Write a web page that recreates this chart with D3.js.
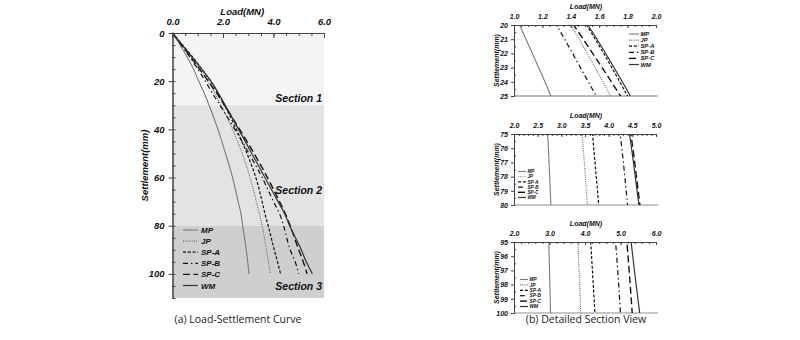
<!DOCTYPE html>
<html>
<head>
<meta charset="utf-8">
<script src="https://cdn.jsdelivr.net/npm/d3@7"></script>
<style>
  body { margin: 0; background: #fff; }
  svg text { font-family: "Liberation Sans", Arial, sans-serif; fill: #111; }
  .bi { font-weight: bold; font-style: italic; }
  .cap { font-family: "Open Sans", "Noto Sans", sans-serif !important; fill: #222; }
</style>
</head>
<body>
<svg id="chart" width="800" height="340"></svg>
<script>
// ---- data -------------------------------------------------------------
const seriesNames = ["MP", "JP", "SP-A", "SP-B", "SP-C", "WM"];
const settlement = [0, 5, 10, 15, 20, 25, 30, 40, 50, 60, 70, 75, 80, 90, 95, 100];
const loadMP  = [0, 0.30, 0.58, 0.83, 1.04, 1.26, 1.45, 1.80, 2.10, 2.38, 2.60, 2.71, 2.78, 2.92, 2.98, 3.03];
const loadJP  = [0, 0.38, 0.75, 1.09, 1.40, 1.68, 1.93, 2.38, 2.76, 3.07, 3.32, 3.44, 3.55, 3.72, 3.80, 3.88];
const loadSPA = [0, 0.40, 0.80, 1.16, 1.51, 1.80, 2.06, 2.53, 2.95, 3.30, 3.55, 3.66, 3.79, 4.03, 4.16, 4.28];
const loadSPB = [0, 0.35, 0.69, 1.00, 1.30, 1.58, 1.88, 2.47, 3.03, 3.55, 4.00, 4.24, 4.40, 4.66, 4.86, 5.00];
const loadSPC = [0, 0.36, 0.72, 1.07, 1.42, 1.75, 2.06, 2.66, 3.23, 3.76, 4.24, 4.47, 4.66, 5.00, 5.18, 5.33];
const loadWM  = [0, 0.39, 0.78, 1.16, 1.52, 1.82, 2.09, 2.62, 3.14, 3.66, 4.18, 4.44, 4.64, 5.10, 5.30, 5.54];
const seriesLoads = [loadMP, loadJP, loadSPA, loadSPB, loadSPC, loadWM];

const sectionNames = ["Section 1", "Section 2", "Section 3"];
const sectionBounds = [0, 30, 80, 110];
const mainLoadTicks = [0, 2, 4, 6];
const mainSettleTicks = [0, 20, 40, 60, 80, 100];

const detailSettleRanges = [[20, 25], [75, 80], [95, 100]];
const detailLoadDomains = [[1, 2], [2, 5], [2, 6]];
const detailLoadTicks = [
  [1.0, 1.2, 1.4, 1.6, 1.8, 2.0],
  [2.0, 2.5, 3.0, 3.5, 4.0, 4.5, 5.0],
  [2.0, 3.0, 4.0, 5.0, 6.0]
];

// ---- styles -----------------------------------------------------------
const lineStyle = {
  "MP":   { stroke: "#7a7a7a", dash: null,          width: 1.1 },
  "JP":   { stroke: "#666",    dash: "1,1.2",       width: 1.1 },
  "SP-A": { stroke: "#111",    dash: "3,1.8",       width: 1.2 },
  "SP-B": { stroke: "#111",    dash: "5,3,1.4,3",   width: 1.2 },
  "SP-C": { stroke: "#111",    dash: "7,3.5",       width: 1.4 },
  "WM":   { stroke: "#333",    dash: null,          width: 1.2 }
};
const bandFill = ["#f4f4f4", "#e3e3e3", "#cfcfcf"];

const svg = d3.select("#chart");
const series = seriesNames.map((name, i) => ({
  name,
  points: settlement.map((s, j) => [s, seriesLoads[i][j]])
}));

function styleLine(sel, name) {
  const st = lineStyle[name];
  sel.attr("fill", "none")
     .attr("stroke", st.stroke)
     .attr("stroke-width", st.width)
     .attr("stroke-dasharray", st.dash);
}

// ---- (a) load-settlement curve ----------------------------------------
const xL = d3.scaleLinear().domain([0, 6]).range([172.5, 324]);
const yL = d3.scaleLinear().domain([0, 110]).range([33, 298]);
const gA = svg.append("g");

gA.selectAll("rect.band")
  .data(sectionNames)
  .join("rect")
  .attr("x", xL(0))
  .attr("width", xL(6) - xL(0))
  .attr("y", (d, i) => yL(sectionBounds[i]))
  .attr("height", (d, i) => yL(sectionBounds[i + 1]) - yL(sectionBounds[i]))
  .attr("fill", (d, i) => bandFill[i]);

// section captions sit near the lower-right of each band
const secLabelY = [yL(30) - 3, yL(80) - 32, yL(110) - 8.5];
gA.selectAll("text.sec")
  .data(sectionNames)
  .join("text")
  .attr("class", "bi")
  .attr("x", xL(6) - 2)
  .attr("y", (d, i) => secLabelY[i])
  .attr("text-anchor", "end")
  .attr("font-size", 10.5)
  .text(d => d);

const lineL = d3.line().x(d => xL(d[1])).y(d => yL(d[0])).curve(d3.curveMonotoneY);
gA.selectAll("path.s")
  .data(series)
  .join("path")
  .attr("d", d => lineL(d.points))
  .each(function (d) { styleLine(d3.select(this), d.name); });

// top axis
const topAx = gA.append("g").attr("transform", `translate(0,${yL(0)})`)
  .call(d3.axisTop(xL).tickValues(mainLoadTicks).tickFormat(d3.format(".1f")).tickSizeInner(-5).tickSizeOuter(0).tickPadding(8));
const topMinor = gA.append("g").attr("transform", `translate(0,${yL(0)})`)
  .call(d3.axisTop(xL).ticks(15).tickFormat("").tickSizeInner(-3).tickSizeOuter(0));
// left axis
const leftAx = gA.append("g").attr("transform", `translate(${xL(0)},0)`)
  .call(d3.axisLeft(yL).tickValues(mainSettleTicks).tickSizeInner(4).tickSizeOuter(0).tickPadding(4));
const leftMinor = gA.append("g").attr("transform", `translate(${xL(0)},0)`)
  .call(d3.axisLeft(yL).tickValues(d3.range(5, 111, 5)).tickFormat("").tickSizeInner(-3).tickSizeOuter(0));
[topAx, topMinor, leftAx, leftMinor].forEach(g => {
  g.select(".domain").attr("stroke", "#444");
  g.selectAll(".tick line").attr("stroke", "#444");
  g.selectAll("text").attr("class", "bi").attr("font-size", 9.5).attr("fill", "#111");
});

gA.append("text").attr("class", "bi").attr("x", (xL(0) + xL(6)) / 2 - 6).attr("y", 15)
  .attr("text-anchor", "middle").attr("font-size", 9.5).text("Load(MN)");
gA.append("text").attr("class", "bi")
  .attr("transform", `translate(148,${yL(55)}) rotate(-90)`)
  .attr("text-anchor", "middle").attr("font-size", 9.5).text("Settlement(mm)");

// legend (a)
const legA = gA.append("g");
seriesNames.forEach((name, i) => {
  const y = 230 + i * 11.1;
  legA.append("line").attr("x1", 183).attr("x2", 198).attr("y1", y).attr("y2", y)
    .call(styleLine, name);
  legA.append("text").attr("class", "bi").attr("x", 201).attr("y", y + 3)
    .attr("font-size", 8).text(name);
});

svg.append("text").attr("class", "cap").attr("x", 238).attr("y", 323)
  .attr("text-anchor", "middle").attr("font-size", 10.5).text("(a) Load-Settlement Curve");

// ---- (b) detailed section views ---------------------------------------
const panelTop = [25, 134, 242];
const panelH = 71;
const legendPos = [
  { x: 629, y: 34,    dy: 6.1, len: 10, fs: 5.8 },
  { x: 518, y: 171.5, dy: 5.2, len: 8,  fs: 4.6 },
  { x: 520, y: 279.5, dy: 5.4, len: 8,  fs: 4.8 }
];
const minorCount = [25, 30, 20];

detailSettleRanges.forEach((rng, k) => {
  const x = d3.scaleLinear().domain(detailLoadDomains[k]).range([514, 656]);
  const y = d3.scaleLinear().domain(rng).range([panelTop[k], panelTop[k] + panelH]);
  const g = svg.append("g");
  const cid = "clip" + k;
  g.append("clipPath").attr("id", cid).append("rect")
    .attr("x", 514).attr("y", panelTop[k]).attr("width", 142).attr("height", panelH);

  // bottom frame line
  g.append("line").attr("x1", 514).attr("x2", 658)
    .attr("y1", y(rng[1])).attr("y2", y(rng[1]))
    .attr("stroke", k === 0 ? "#777" : "#b5b5b5").attr("stroke-width", k === 0 ? 1 : 1.5);

  const line = d3.line().x(d => x(d[1])).y(d => y(d[0])).curve(d3.curveMonotoneY);
  g.append("g").attr("clip-path", `url(#${cid})`)
    .selectAll("path").data(series).join("path")
    .attr("d", d => line(d.points))
    .each(function (d) { styleLine(d3.select(this), d.name); });

  const ax1 = g.append("g").attr("transform", `translate(0,${y(rng[0])})`)
    .call(d3.axisTop(x).tickValues(detailLoadTicks[k]).tickFormat(d3.format(".1f"))
      .tickSizeInner(-3).tickSizeOuter(0).tickPadding(6));
  const ax1m = g.append("g").attr("transform", `translate(0,${y(rng[0])})`)
    .call(d3.axisTop(x).ticks(minorCount[k]).tickFormat("").tickSizeInner(-2).tickSizeOuter(0));
  const ax2 = g.append("g").attr("transform", "translate(514,0)")
    .call(d3.axisLeft(y).tickValues(d3.range(rng[0], rng[1] + 0.5, 1)).tickFormat(d3.format("d"))
      .tickSizeInner(3).tickSizeOuter(0).tickPadding(3));
  const ax2m = g.append("g").attr("transform", "translate(514,0)")
    .call(d3.axisLeft(y).tickValues(d3.range(rng[0] + 0.5, rng[1], 1)).tickFormat("")
      .tickSizeInner(-2).tickSizeOuter(0));
  [ax1, ax1m, ax2, ax2m].forEach(a => {
    a.select(".domain").attr("stroke", "#444");
    a.selectAll(".tick line").attr("stroke", "#444");
    a.selectAll("text").attr("class", "bi").attr("font-size", 7).attr("fill", "#111");
  });

  g.append("text").attr("class", "bi").attr("x", 586).attr("y", panelTop[k] - 16)
    .attr("text-anchor", "middle").attr("font-size", 7).text("Load(MN)");
  g.append("text").attr("class", "bi")
    .attr("transform", `translate(499,${panelTop[k] + panelH / 2}) rotate(-90)`)
    .attr("text-anchor", "middle").attr("font-size", 7).text("Settlement(mm)");

  const lp = legendPos[k];
  seriesNames.forEach((name, i) => {
    const yy = lp.y + i * lp.dy;
    g.append("line").attr("x1", lp.x).attr("x2", lp.x + lp.len).attr("y1", yy).attr("y2", yy)
      .call(styleLine, name);
    g.append("text").attr("class", "bi").attr("x", lp.x + lp.len + 1.5).attr("y", yy + lp.fs * 0.35)
      .attr("font-size", lp.fs).text(name);
  });
});

svg.append("text").attr("class", "cap").attr("x", 586).attr("y", 323)
  .attr("text-anchor", "middle").attr("font-size", 10.5).text("(b) Detailed Section View");
</script>
</body>
</html>
